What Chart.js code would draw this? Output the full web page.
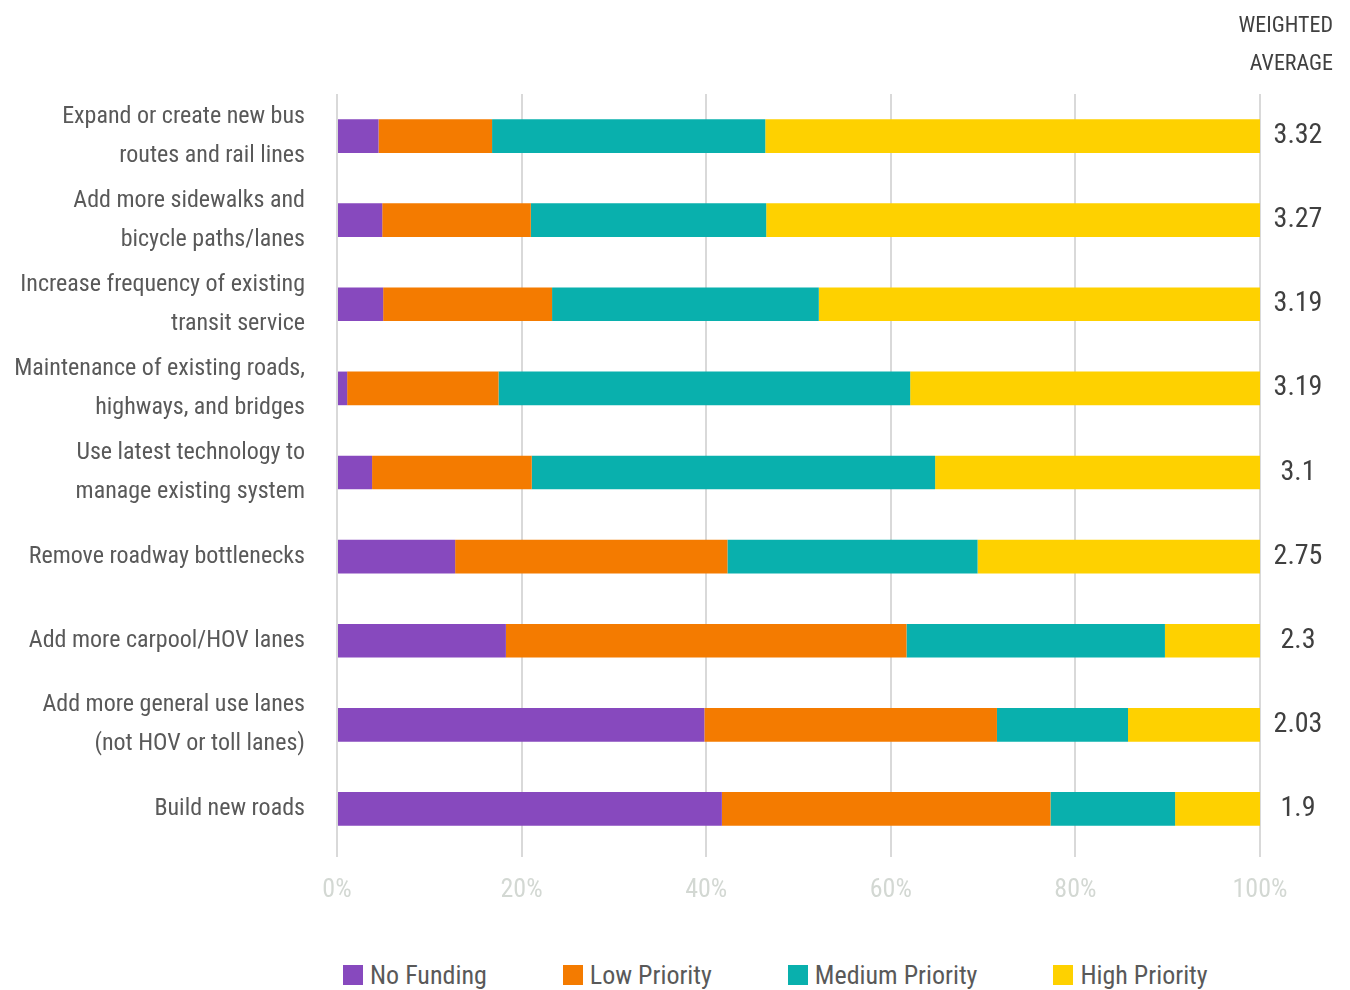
<!DOCTYPE html>
<html>
<head>
<meta charset="utf-8">
<script src="https://cdn.jsdelivr.net/npm/chart.js@4"></script>
<style>
  html, body { margin: 0; padding: 0; background: #fff; }
  body { width: 1350px; height: 990px; overflow: hidden; }
  #legend {
    display: flex; align-items: center; gap: 76px;
    height: 60px; padding-left: 343px; padding-top: 30px; box-sizing: border-box;
    font-family: 'Roboto Condensed', 'DejaVu Sans Condensed', sans-serif;
    font-size: 26px; color: #595959;
  }
  #legend .item { display: flex; align-items: center; }
  #legend .box { width: 20px; height: 20px; margin-right: 7px; }
</style>
</head>
<body>
<canvas id="chart" width="1350" height="930"></canvas>
<div id="legend"></div>
<script>
const FONT = "'Roboto Condensed', 'DejaVu Sans Condensed', sans-serif";

const categories = [
  ['Expand or create new bus', 'routes and rail lines'],
  ['Add more sidewalks and', 'bicycle paths/lanes'],
  ['Increase frequency of existing', 'transit service'],
  ['Maintenance of existing roads,', 'highways, and bridges'],
  ['Use latest technology to', 'manage existing system'],
  'Remove roadway bottlenecks',
  'Add more carpool/HOV lanes',
  ['Add more general use lanes', '(not HOV or toll lanes)'],
  'Build new roads'
];
const noFunding      = [4.5, 4.9, 5.0, 1.1, 3.8, 12.8, 18.3, 39.8, 41.7];
const lowPriority    = [12.3, 16.1, 18.3, 16.4, 17.3, 29.5, 43.4, 31.7, 35.6];
const mediumPriority = [29.6, 25.5, 28.9, 44.6, 43.7, 27.1, 28.0, 14.2, 13.5];
const highPriority   = [53.6, 53.5, 47.8, 37.9, 35.2, 30.6, 10.3, 14.3, 9.2];
const weightedAverage = ['3.32', '3.27', '3.19', '3.19', '3.1', '2.75', '2.3', '2.03', '1.9'];
const averageHeader = ['WEIGHTED', 'AVERAGE'];
const xTicks = [0, 20, 40, 60, 80, 100];

// weighted average column to the right of the bars
const averageColumn = {
  id: 'averageColumn',
  afterDraw(chart) {
    const ctx = chart.ctx;
    const yScale = chart.scales.y;
    ctx.save();
    ctx.fillStyle = '#404040';
    ctx.textBaseline = 'middle';
    ctx.font = '22px ' + FONT;
    ctx.textAlign = 'right';
    averageHeader.forEach((line, i) => ctx.fillText(line, 1333, 26 + i * 38));
    ctx.font = '28px ' + FONT;
    ctx.textAlign = 'center';
    weightedAverage.forEach((v, i) => {
      ctx.fillText(v, chart.chartArea.right + 38, yScale.getPixelForValue(i));
    });
    ctx.restore();
  }
};

const chart = new Chart(document.getElementById('chart'), {
  type: 'bar',
  data: {
    labels: categories,
    datasets: [
      { label: 'No Funding', data: noFunding, backgroundColor: '#8749BE' },
      { label: 'Low Priority', data: lowPriority, backgroundColor: '#F47B00' },
      { label: 'Medium Priority', data: mediumPriority, backgroundColor: '#09B0AD' },
      { label: 'High Priority', data: highPriority, backgroundColor: '#FED100' }
    ]
  },
  options: {
    indexAxis: 'y',
    responsive: false,
    animation: false,
    devicePixelRatio: 1,
    barPercentage: 0.4,
    categoryPercentage: 1,
    layout: { padding: { top: 94, right: 90, left: 0, bottom: 0 } },
    plugins: {
      legend: { display: false },
      tooltip: { enabled: false }
    },
    scales: {
      x: {
        stacked: true,
        min: 0,
        max: 100,
        afterBuildTicks: scale => { scale.ticks = xTicks.map(v => ({ value: v })); },
        afterFit: scale => { scale.height = 79; },
        grid: { color: '#d9d9d9', lineWidth: 2, tickLength: 6 },
        border: { display: false },
        ticks: {
          padding: 18,
          color: '#d3d8d3',
          font: { family: FONT, size: 26 },
          callback: v => v + '%'
        }
      },
      y: {
        stacked: true,
        afterFit: scale => { scale.width = 337; },
        grid: { display: false, drawTicks: false },
        border: { display: false },
        ticks: {
          padding: 32,
          color: '#595959',
          font: { family: FONT, size: 24, lineHeight: 1.625 }
        }
      }
    }
  },
  plugins: [averageColumn]
});

// legend row under the canvas
const legend = document.getElementById('legend');
chart.data.datasets.forEach(ds => {
  const item = document.createElement('div');
  item.className = 'item';
  item.innerHTML = '<span class="box" style="background:' + ds.backgroundColor + '"></span><span>' + ds.label + '</span>';
  legend.appendChild(item);
});
</script>
</body>
</html>
